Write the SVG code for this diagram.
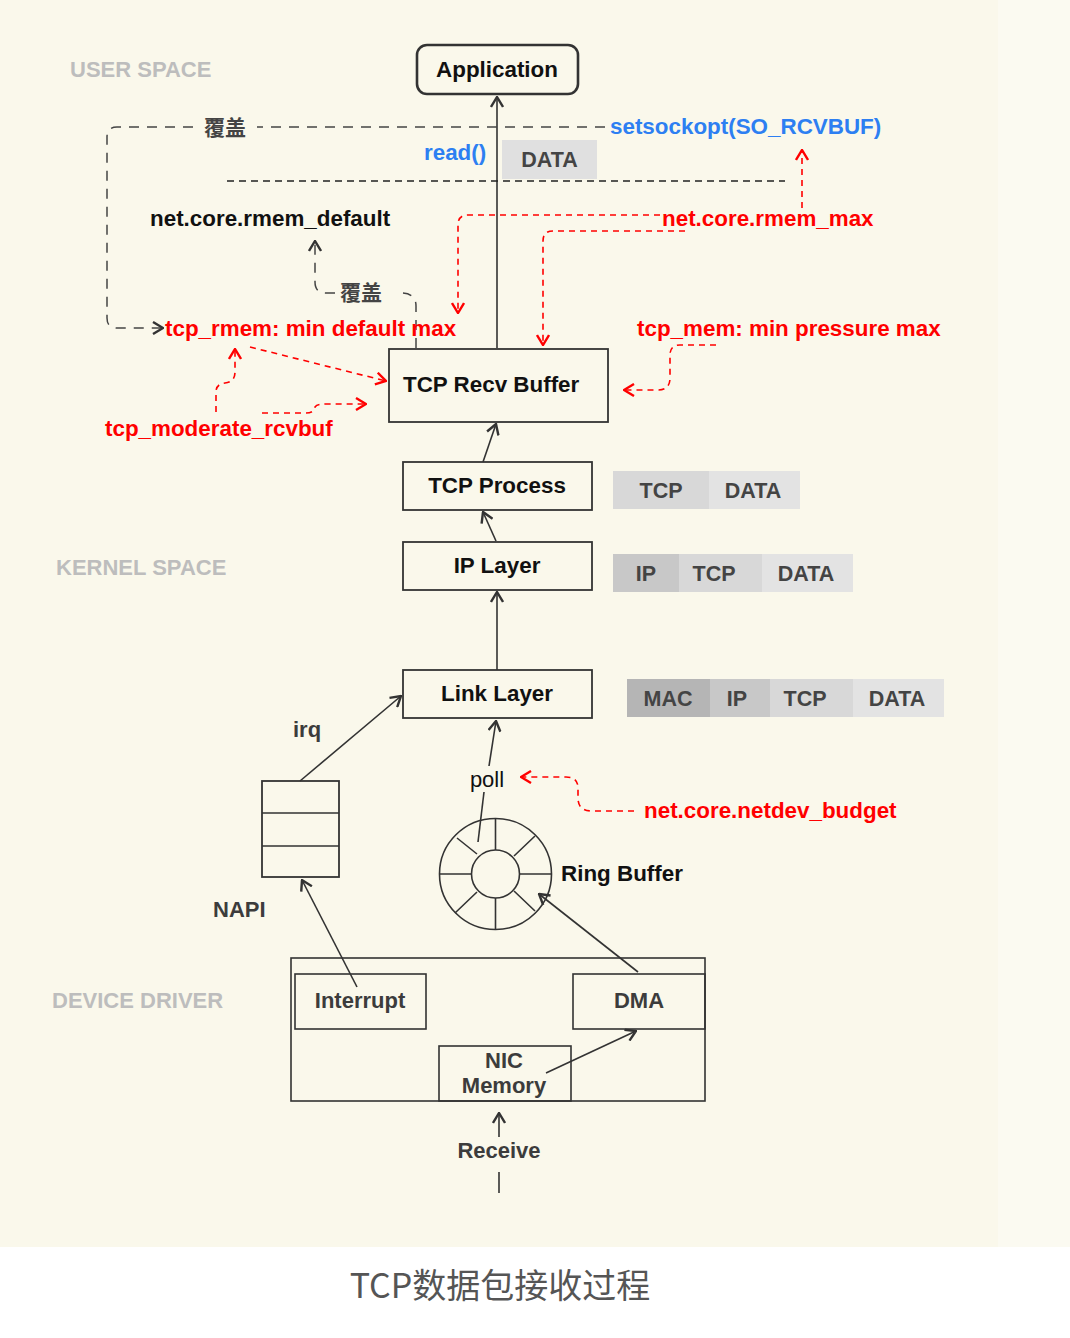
<svg xmlns="http://www.w3.org/2000/svg" width="1070" height="1338" viewBox="0 0 1070 1338">
<style>
.b{font-family:"Liberation Sans",Arial,sans-serif;font-weight:bold;font-size:22.4px;fill:#111}
.g{font-family:"Liberation Sans",Arial,sans-serif;font-weight:bold;font-size:22px;fill:#BDBDBD}
.d{font-family:"Liberation Sans",Arial,sans-serif;font-weight:bold;font-size:22px;fill:#3C3C3C}
.p{font-family:"Liberation Sans",Arial,sans-serif;font-weight:bold;font-size:21.5px;fill:#444}
.r{font-family:"Liberation Sans",Arial,sans-serif;font-weight:bold;font-size:22.4px;fill:#F00}
.bl{font-family:"Liberation Sans",Arial,sans-serif;font-weight:bold;font-size:22.4px;fill:#2D7FF2}
.cj{font-family:"Noto Sans CJK SC",sans-serif;font-weight:bold;font-size:21px;fill:#444}
.box{fill:none;stroke:#333;stroke-width:1.8}
.ln{fill:none;stroke:#333;stroke-width:1.6}
.gd{fill:none;stroke:#444;stroke-width:1.5;stroke-dasharray:10 8}
.rd{fill:none;stroke:#F00;stroke-width:1.6;stroke-dasharray:6 5}
</style>
<defs>
<marker id="ah" viewBox="0 0 12 14" refX="11" refY="7" markerWidth="12" markerHeight="14" markerUnits="userSpaceOnUse" orient="auto"><path d="M1,1 L11,7 L1,13" fill="none" stroke="#333" stroke-width="2.4"/></marker>
<marker id="ahr" viewBox="0 0 12 14" refX="11" refY="7" markerWidth="12" markerHeight="14" markerUnits="userSpaceOnUse" orient="auto"><path d="M1,1 L11,7 L1,13" fill="none" stroke="#F00" stroke-width="2.4"/></marker>
</defs>
<rect x="0" y="0" width="1070" height="1338" fill="#FFFFFF"/>
<rect x="0" y="0" width="1070" height="1247" fill="#FAF8EB"/>
<rect x="998" y="0" width="72" height="1247" fill="#FBFAF1"/>

<g id="labels">
<text class="g" x="70" y="77">USER SPACE</text>
<text class="g" x="56" y="575">KERNEL SPACE</text>
<text class="g" x="52" y="1008">DEVICE DRIVER</text>
</g>

<g id="connectors">
<path class="ln" d="M497,348 V97" marker-end="url(#ah)"/>
<path class="ln" d="M483,462 L496,424" marker-end="url(#ah)"/>
<path class="ln" d="M496,541 L483,512" marker-end="url(#ah)"/>
<path class="ln" d="M497,670 V592" marker-end="url(#ah)" stroke="#111"/>
<path class="ln" d="M300,781 L401,696" marker-end="url(#ah)"/>
<path class="ln" d="M478,842 L484,792"/>
<path class="ln" d="M489,766 L496,721" marker-end="url(#ah)"/>
<path class="ln" d="M638,972 L539,894" marker-end="url(#ah)"/>
<path class="ln" d="M357,987 L302,880" marker-end="url(#ah)"/>
<path class="ln" d="M546,1073 L636,1031" marker-end="url(#ah)"/>
<path class="ln" d="M499,1193 V1172"/>
<path class="ln" d="M499,1137 V1113" marker-end="url(#ah)"/>
<path d="M227,181 H785" fill="none" stroke="#222" stroke-width="1.6" stroke-dasharray="7 5"/>
<path class="gd" d="M605,127 H257"/>
<path class="gd" d="M193,127 H117 Q107,127 107,137 V318 Q107,328 117,328 H163" marker-end="url(#ah)"/>
<path class="gd" d="M416,348 V306 Q416,294 403,293"/>
<path class="gd" d="M335,293 H326 Q315,293 315,282 V241" marker-end="url(#ah)"/>
<path class="rd" d="M802,208 V150" stroke-dasharray="10 8" marker-end="url(#ahr)"/>
<path class="rd" d="M660,215 H468 Q458,215 458,225 V313" marker-end="url(#ahr)"/>
<path class="rd" d="M685,231 H553 Q543,231 543,241 V345" marker-end="url(#ahr)"/>
<path class="rd" d="M250,347 L386,381" stroke-dasharray="14 10" marker-end="url(#ahr)"/>
<path class="rd" d="M216,412 V392 Q216,384 225,383 Q235,382 235,372 V349" marker-end="url(#ahr)"/>
<path class="rd" d="M262,413 H306 Q314,413 315,407 Q317,404 326,404 H366" marker-end="url(#ahr)"/>
<path class="rd" d="M716,345 H680 Q670,345 670,355 V378 Q670,390 658,390 H624" marker-end="url(#ahr)"/>
<path class="rd" d="M634,811 H592 Q578,811 578,798 V788 Q578,777 566,777 H521" marker-end="url(#ahr)"/>
</g>

<g id="overlay-text">
<text class="cj" x="225" y="135" text-anchor="middle">覆盖</text>
<text class="cj" x="361" y="300" text-anchor="middle">覆盖</text>
<text class="bl" x="610" y="134">setsockopt(SO_RCVBUF)</text>
<text class="bl" x="424" y="160">read()</text>
<text class="b" x="150" y="226">net.core.rmem_default</text>
<text class="r" x="662" y="226">net.core.rmem_max</text>
<text class="r" x="165" y="336">tcp_rmem: min default max</text>
<text class="r" x="637" y="336">tcp_mem: min pressure max</text>
<text class="r" x="105" y="436">tcp_moderate_rcvbuf</text>
<text class="r" x="644" y="818">net.core.netdev_budget</text>
<text class="d" x="293" y="737" fill="#333">irq</text>
<text x="487" y="787" text-anchor="middle" font-family="Liberation Sans, Arial, sans-serif" font-size="22" fill="#111">poll</text>
<text class="b" x="561" y="881">Ring Buffer</text>
<text class="d" x="213" y="917">NAPI</text>
</g>

<g id="application">
<rect x="417" y="45" width="161" height="49" rx="10" fill="none" stroke="#333" stroke-width="2.6"/>
<text class="b" x="497" y="77" text-anchor="middle">Application</text>
</g>

<g id="data-user">
<rect x="502" y="140" width="95" height="39" fill="#E0E0E0"/>
<text class="p" x="549.5" y="167" text-anchor="middle">DATA</text>
</g>

<g id="tcp-recv-buffer">
<rect class="box" x="389" y="349" width="219" height="73"/>
<text class="b" x="403" y="392">TCP Recv Buffer</text>
</g>

<g id="tcp-process">
<rect class="box" x="403" y="462" width="189" height="48"/>
<text class="b" x="497" y="493" text-anchor="middle">TCP Process</text>
</g>

<g id="pkt-tcp">
<rect x="613" y="471" width="96" height="38" fill="#D8D8D8"/>
<rect x="709" y="471" width="91" height="38" fill="#E3E3E3"/>
<text class="p" x="661" y="498" text-anchor="middle">TCP</text>
<text class="p" x="753" y="498" text-anchor="middle">DATA</text>
</g>

<g id="ip-layer">
<rect class="box" x="403" y="542" width="189" height="48"/>
<text class="b" x="497" y="573" text-anchor="middle">IP Layer</text>
</g>

<g id="pkt-ip">
<rect x="613" y="554" width="66" height="38" fill="#C8C8C8"/>
<rect x="679" y="554" width="83" height="38" fill="#D8D8D8"/>
<rect x="762" y="554" width="91" height="38" fill="#E3E3E3"/>
<text class="p" x="646" y="581" text-anchor="middle">IP</text>
<text class="p" x="714" y="581" text-anchor="middle">TCP</text>
<text class="p" x="806" y="581" text-anchor="middle">DATA</text>
</g>

<g id="link-layer">
<rect class="box" x="403" y="670" width="189" height="48"/>
<text class="b" x="497" y="701" text-anchor="middle">Link Layer</text>
</g>

<g id="pkt-mac">
<rect x="627" y="679" width="83" height="38" fill="#B5B5B5"/>
<rect x="710" y="679" width="60" height="38" fill="#C8C8C8"/>
<rect x="770" y="679" width="83" height="38" fill="#D8D8D8"/>
<rect x="853" y="679" width="91" height="38" fill="#E3E3E3"/>
<text class="p" x="668" y="706" text-anchor="middle">MAC</text>
<text class="p" x="737" y="706" text-anchor="middle">IP</text>
<text class="p" x="805" y="706" text-anchor="middle">TCP</text>
<text class="p" x="897" y="706" text-anchor="middle">DATA</text>
</g>

<g id="napi">
<rect class="box" x="262" y="781" width="77" height="96" stroke-width="1.6"/>
<path class="ln" d="M262,813 H339 M262,846 H339"/>
</g>

<g id="ring-buffer" fill="none" stroke="#333" stroke-width="1.6">
<ellipse cx="495.5" cy="874" rx="56" ry="55.5"/>
<circle cx="495.5" cy="874" r="24"/>
<path d="M495.5,818.5 V850 M495.5,898 V929.5 M439.5,874 H471.5 M519.5,874 H551.5 M457,838 L477,854 M535,836 L514,856 M455,913 L477,892 M535,911 L514,891"/>
</g>

<g id="device-driver">
<rect x="291" y="958" width="414" height="143" fill="none" stroke="#333" stroke-width="1.6"/>
</g>
<g id="interrupt">
<rect x="295" y="974" width="131" height="55" fill="none" stroke="#333" stroke-width="1.6"/>
<text class="d" x="360" y="1008" text-anchor="middle">Interrupt</text>
</g>
<g id="dma">
<rect x="573" y="974" width="132" height="55" fill="none" stroke="#333" stroke-width="1.6"/>
<text class="d" x="639" y="1008" text-anchor="middle">DMA</text>
</g>
<g id="nic-memory">
<rect x="439" y="1046" width="132" height="55" fill="none" stroke="#333" stroke-width="1.6"/>
<text class="d" x="504" y="1068" text-anchor="middle">NIC</text>
<text class="d" x="504" y="1093" text-anchor="middle">Memory</text>
</g>
<g id="receive">
<text class="d" x="499" y="1158" text-anchor="middle">Receive</text>
</g>

<g id="caption">
<text x="500" y="1298" text-anchor="middle" font-family="Noto Sans CJK SC, sans-serif" font-size="34" fill="#555">TCP数据包接收过程</text>
</g>
</svg>
